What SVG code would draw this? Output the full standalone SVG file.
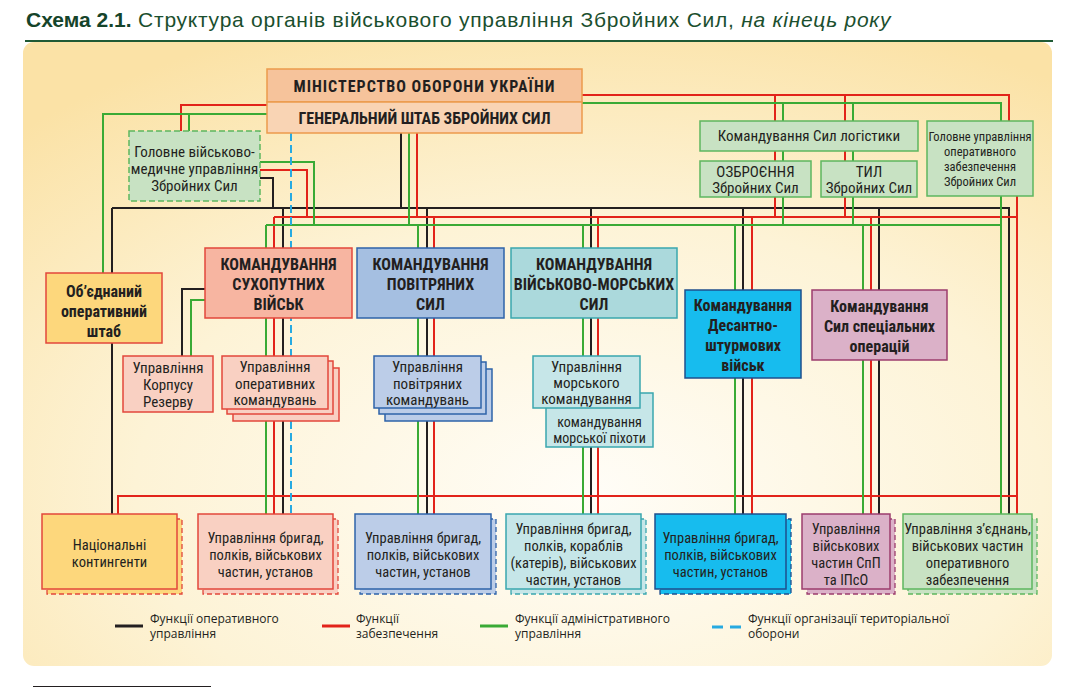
<svg xmlns="http://www.w3.org/2000/svg" width="1071" height="688" viewBox="0 0 1071 688">
<defs>
<radialGradient id="bg" cx="0.55" cy="0.72" r="0.8">
<stop offset="0" stop-color="#fffdf7"/>
<stop offset="0.55" stop-color="#fdf3d6"/>
<stop offset="1" stop-color="#fbe2a6"/>
</radialGradient>
<style>
.t{font-family:"Liberation Sans Narrow","Roboto Condensed","DejaVu Sans Condensed","Liberation Sans",sans-serif;fill:#231f20;text-anchor:middle}
.bd{font-weight:bold;font-size:16px}
.rg{font-size:15px}
.md{font-size:14.5px}
.sm{font-size:12.5px}
.lg{font-family:"Open Sans","Noto Sans",sans-serif;font-size:12px;fill:#231f20}
.c path,.c line{fill:none;stroke-width:2}
.k{stroke:#231f20}
.r{stroke:#e2231a}
.g{stroke:#3aaa35}
.b{stroke:#27aae1;stroke-dasharray:8 4}
.box{stroke-width:1.5}
.sh{stroke-width:1.3;stroke-dasharray:5 3}
.or{fill:#f6c39b;stroke:#ec9a4c}
.gr{fill:#c8e2c3;stroke:#5db65f}
.ye{fill:#fdd77c;stroke:#e2473b}
.sv{fill:#f7b5a1;stroke:#e2473b}
.svl{fill:#f9d0c2;stroke:#e2473b}
.ps{fill:#a5bfe1;stroke:#2e63a9}
.psl{fill:#bccde8;stroke:#2e63a9}
.vm{fill:#abd9dc;stroke:#3aa7ae}
.vml{fill:#c6e6e8;stroke:#3aa7ae}
.ds{fill:#17bcee;stroke:#1f4f8d}
.so{fill:#dbb1c8;stroke:#9c3d6d}
</style>
</defs>
<rect width="1071" height="688" fill="#ffffff"/>
<g id="title">
<text x="26" y="27" font-family="'Liberation Sans',Arial,sans-serif" font-size="21" fill="#1b4f2e"><tspan font-weight="bold" fill="#15442a">Схема 2.1.</tspan><tspan letter-spacing="0.75"> Структура органів військового управління Збройних Сил, <tspan font-style="italic">на кінець року</tspan></tspan></text>
<rect x="25" y="40" width="1028" height="2" fill="#1f5a35"/>
</g>
<rect id="panel" x="23" y="42" width="1029" height="624" rx="11" fill="url(#bg)"/>

<g id="connectors" class="c">
<!-- black: operational -->
<path class="k" d="M401,133V208M112,208H1009V515M112,208V273M112,343V514M260,178H273V208M283,208V514M427,208V514M591,208V514M743,208V514M879,208V514M205,289H182V356"/>
<!-- red: support -->
<path class="r" d="M267,105H181V131M582,95H1009V121M775,95V217M845,95V217M417,133V217M260,170H307V217M274,217H1017M1017,196V515M274,217V514M434,217V514M598,217V514M752,217V514M871,217V514M118,514V496H1017"/>
<!-- green: administrative -->
<path class="g" d="M267,114H103V273M189,114V131M582,103H1001V121M783,103V225M853,103V225M409,133V225M260,162H314V225M266,225H1001M1001,196V515M266,225V514M418,225V514M583,225V514M735,225V514M863,225V514M205,300H191V356"/>
<!-- blue dashed: territorial defence -->
<path class="b" d="M291,133V514"/>
</g>

<g id="n-ministry">
<rect class="box or" x="267" y="69" width="315" height="33"/>
<text class="t bd" x="424.5" y="92" letter-spacing="1">МІНІСТЕРСТВО ОБОРОНИ УКРАЇНИ</text>
</g>
<g id="n-genstaff">
<rect class="box or" x="267" y="102" width="315" height="31" style="fill:#f9d4b4"/>
<text class="t bd" x="424.5" y="124">ГЕНЕРАЛЬНИЙ ШТАБ ЗБРОЙНИХ СИЛ</text>
</g>
<g id="n-medical">
<rect class="gr" x="129" y="131" width="131" height="70" stroke-width="1.5" stroke-dasharray="6 3"/>
<text class="t rg" x="194.5" y="157">Головне військово-</text>
<text class="t rg" x="194.5" y="174">медичне управління</text>
<text class="t rg" x="194.5" y="191">Збройних Сил</text>
</g>
<g id="n-logistics">
<rect class="box gr" x="700" y="121" width="218" height="30"/>
<text class="t rg" x="809" y="141">Командування Сил логістики</text>
</g>
<g id="n-armament">
<rect class="box gr" x="700" y="161" width="111" height="36"/>
<text class="t rg" x="755.5" y="177">ОЗБРОЄННЯ</text>
<text class="t rg" x="755.5" y="193">Збройних Сил</text>
</g>
<g id="n-rear">
<rect class="box gr" x="821" y="161" width="96" height="36"/>
<text class="t rg" x="869" y="177">ТИЛ</text>
<text class="t rg" x="869" y="193">Збройних Сил</text>
</g>
<g id="n-opsupport">
<rect class="box gr" x="927" y="121" width="106" height="75"/>
<text class="t sm" x="980" y="141">Головне управління</text>
<text class="t sm" x="980" y="156">оперативного</text>
<text class="t sm" x="980" y="171">забезпечення</text>
<text class="t sm" x="980" y="186">Збройних Сил</text>
</g>
<g id="n-jointhq">
<rect class="box ye" x="46" y="273" width="116" height="70"/>
<text class="t bd" x="104" y="297">Об’єднаний</text>
<text class="t bd" x="104" y="317">оперативний</text>
<text class="t bd" x="104" y="337">штаб</text>
</g>
<g id="n-land">
<rect class="box sv" x="205" y="248" width="147" height="70"/>
<text class="t bd" x="278.5" y="270">КОМАНДУВАННЯ</text>
<text class="t bd" x="278.5" y="290">СУХОПУТНИХ</text>
<text class="t bd" x="278.5" y="310">ВІЙСЬК</text>
</g>
<g id="n-air">
<rect class="box ps" x="357" y="248" width="147" height="70"/>
<text class="t bd" x="430.5" y="270">КОМАНДУВАННЯ</text>
<text class="t bd" x="430.5" y="290">ПОВІТРЯНИХ</text>
<text class="t bd" x="430.5" y="310">СИЛ</text>
</g>
<g id="n-navy">
<rect class="box vm" x="511" y="248" width="166" height="70"/>
<text class="t bd" x="594" y="270">КОМАНДУВАННЯ</text>
<text class="t bd" x="594" y="290">ВІЙСЬКОВО-МОРСЬКИХ</text>
<text class="t bd" x="594" y="310">СИЛ</text>
</g>
<g id="n-airassault">
<rect class="box ds" x="685" y="290" width="116" height="88"/>
<text class="t bd" x="743" y="311">Командування</text>
<text class="t bd" x="743" y="331">Десантно-</text>
<text class="t bd" x="743" y="351">штурмових</text>
<text class="t bd" x="743" y="371">військ</text>
</g>
<g id="n-sof">
<rect class="box so" x="812" y="290" width="135" height="70"/>
<text class="t bd" x="879.5" y="312">Командування</text>
<text class="t bd" x="879.5" y="332">Сил спеціальних</text>
<text class="t bd" x="879.5" y="352">операцій</text>
</g>
<g id="n-reserve">
<rect class="box svl" x="123" y="356" width="90" height="56"/>
<text class="t rg" x="168" y="373">Управління</text>
<text class="t rg" x="168" y="390">Корпусу</text>
<text class="t rg" x="168" y="407">Резерву</text>
</g>
<g id="n-opcommands">
<rect class="box svl" x="233" y="368" width="106" height="53"/>
<rect class="box svl" x="227" y="361" width="106" height="53"/>
<rect class="box svl" x="222" y="356" width="106" height="53"/>
<text class="t rg" x="275" y="372">Управління</text>
<text class="t rg" x="275" y="389">оперативних</text>
<text class="t rg" x="275" y="405">командувань</text>
</g>
<g id="n-aircommands">
<rect class="box psl" x="385" y="369" width="107" height="52"/>
<rect class="box psl" x="379" y="362" width="107" height="52"/>
<rect class="box psl" x="374" y="356" width="107" height="52"/>
<text class="t rg" x="427.5" y="372">Управління</text>
<text class="t rg" x="427.5" y="389">повітряних</text>
<text class="t rg" x="427.5" y="405">командувань</text>
</g>
<g id="n-marines">
<rect class="box vml" x="546" y="393" width="107" height="54"/>
<text class="t" x="599.5" y="427" font-size="14">командування</text>
<text class="t" x="599.5" y="443" font-size="14">морської піхоти</text>
</g>
<g id="n-navalcommand">
<rect class="box vml" x="533" y="356" width="107" height="52"/>
<text class="t rg" x="586.5" y="372">Управління</text>
<text class="t rg" x="586.5" y="388">морського</text>
<text class="t rg" x="586.5" y="404">командування</text>
</g>

<g id="n-national">
<rect class="sh ye" x="47" y="519" width="135" height="75"/>
<rect class="box ye" x="42" y="514" width="135" height="75"/>
<text class="t md" x="109.5" y="550">Національні</text>
<text class="t md" x="109.5" y="567">контингенти</text>
</g>
<g id="n-land-units">
<rect class="sh svl" x="203" y="519" width="135" height="75"/>
<rect class="box svl" x="198" y="514" width="135" height="75"/>
<text class="t md" x="265.5" y="543">Управління бригад,</text>
<text class="t md" x="265.5" y="560">полків, військових</text>
<text class="t md" x="265.5" y="577">частин, установ</text>
</g>
<g id="n-air-units">
<rect class="sh psl" x="360" y="519" width="136" height="75"/>
<rect class="box psl" x="355" y="514" width="136" height="75"/>
<text class="t md" x="423" y="543">Управління бригад,</text>
<text class="t md" x="423" y="560">полків, військових</text>
<text class="t md" x="423" y="577">частин, установ</text>
</g>
<g id="n-navy-units">
<rect class="sh vml" x="511" y="519" width="135" height="75"/>
<rect class="box vml" x="506" y="514" width="135" height="75"/>
<text class="t md" x="573.5" y="534">Управління бригад,</text>
<text class="t md" x="573.5" y="551">полків, кораблів</text>
<text class="t md" x="573.5" y="568">(катерів), військових</text>
<text class="t md" x="573.5" y="585">частин, установ</text>
</g>
<g id="n-airassault-units">
<rect class="sh ds" x="660" y="519" width="131" height="75"/>
<rect class="box ds" x="655" y="514" width="131" height="75"/>
<text class="t md" x="720.5" y="543">Управління бригад,</text>
<text class="t md" x="720.5" y="560">полків, військових</text>
<text class="t md" x="720.5" y="577">частин, установ</text>
</g>
<g id="n-sof-units">
<rect class="sh so" x="807" y="519" width="88" height="75"/>
<rect class="box so" x="802" y="514" width="88" height="75"/>
<text class="t md" x="846" y="534">Управління</text>
<text class="t md" x="846" y="551">військових</text>
<text class="t md" x="846" y="568">частин СпП</text>
<text class="t md" x="846" y="585">та ІПсО</text>
</g>
<g id="n-support-units">
<rect class="sh gr" x="908" y="519" width="129" height="75"/>
<rect class="box gr" x="903" y="514" width="129" height="75"/>
<text class="t md" x="967.5" y="534">Управління з’єднань,</text>
<text class="t md" x="967.5" y="551">військових частин</text>
<text class="t md" x="967.5" y="568">оперативного</text>
<text class="t md" x="967.5" y="585">забезпечення</text>
</g>

<g id="legend">
<line x1="115" y1="626" x2="143" y2="626" stroke="#231f20" stroke-width="3"/>
<text class="lg" x="150" y="623">Функції оперативного</text>
<text class="lg" x="150" y="638">управління</text>
<line x1="322" y1="626" x2="350" y2="626" stroke="#e2231a" stroke-width="3"/>
<text class="lg" x="356" y="623">Функції</text>
<text class="lg" x="356" y="638">забезпечення</text>
<line x1="480" y1="626" x2="508" y2="626" stroke="#3aaa35" stroke-width="3"/>
<text class="lg" x="515" y="623">Функції адміністративного</text>
<text class="lg" x="515" y="638">управління</text>
<line x1="712" y1="627" x2="741" y2="627" stroke="#27aae1" stroke-width="3" stroke-dasharray="11 7"/>
<text class="lg" x="748" y="623">Функції організації територіальної</text>
<text class="lg" x="748" y="638">оборони</text>
</g>
<rect id="footnote-rule" x="33" y="686" width="178" height="1" fill="#231f20"/>
</svg>
